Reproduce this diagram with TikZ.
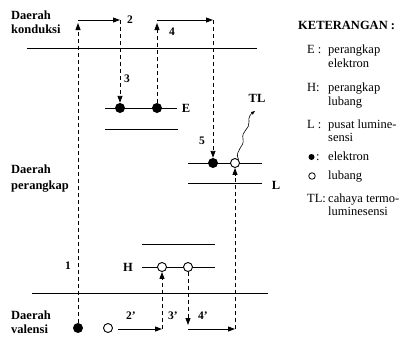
\documentclass[tikz,border=0pt]{standalone}
\usepackage{fontspec}
\setmainfont{Liberation Serif}
\usetikzlibrary{arrows.meta}
\begin{document}
\begin{tikzpicture}[x=1pt,y=-1pt,
  band/.style={line width=0.9pt},
  elec/.style={circle,fill=black,inner sep=0pt,minimum size=10pt},
  hole/.style={circle,draw=black,fill=white,line width=0.9pt,inner sep=0pt,minimum size=9pt},
  tr/.style={line width=0.9pt,dash pattern=on 4pt off 3pt,-{Triangle[length=7pt,width=5pt]}},
  hop/.style={line width=0.9pt,-{Triangle[length=7pt,width=5pt]}},
  reg/.style={font=\fontsize{12.5}{14}\selectfont\bfseries,align=left,anchor=base west,inner sep=0pt},
  lab/.style={font=\fontsize{11.5}{12}\selectfont\bfseries,inner sep=0pt},
  leg/.style={font=\fontsize{12.5}{13}\selectfont,anchor=base west,inner sep=0pt},
  legb/.style={font=\fontsize{12.5}{13}\selectfont\bfseries,anchor=base west,inner sep=0pt},
]
\useasboundingbox (0,0) rectangle (406,338);

% bands
\coordinate (cbL) at (27,48); \coordinate (cbR) at (257,48);
\draw[band] (cbL) -- (cbR);
\coordinate (vbL) at (32,293); \coordinate (vbR) at (268,293);
\draw[band] (vbL) -- (vbR);

% trap levels
\coordinate (eaL) at (105,108); \coordinate (eaR) at (177,108);
\coordinate (ebL) at (105,129); \coordinate (ebR) at (178,129);
\draw[band] (eaL) -- (eaR); \draw[band] (ebL) -- (ebR);
\coordinate (laL) at (188,163); \coordinate (laR) at (262,163);
\coordinate (lbL) at (188,183); \coordinate (lbR) at (262,183);
\draw[band] (laL) -- (laR); \draw[band] (lbL) -- (lbR);
\coordinate (haL) at (142,244); \coordinate (haR) at (215,244);
\coordinate (hbL) at (142,267); \coordinate (hbR) at (215,267);
\draw[band] (haL) -- (haR); \draw[band] (hbL) -- (hbR);

% carriers
\node[elec] (ve) at (78,328) {};
\node[hole] (vh) at (108,328) {};
\node[elec] (e1) at (120,108) {};
\node[elec] (e2) at (157,108) {};
\node[elec] (le) at (213,163) {};
\node[hole] (lh) at (235,163) {};
\node[hole] (h1) at (162,267) {};
\node[hole] (h2) at (188,267) {};

% electron path
\coordinate (t1) at (78,23);
\draw[tr] (ve) -- (t1);
\coordinate (a1) at (78,20); \coordinate (a2) at (120,20);
\draw[hop] (a1) -- (a2);
\draw[tr] (a2) -- (e1);
\coordinate (t4) at (157,23);
\draw[tr] (e2) -- (t4);
\coordinate (b1) at (157,20); \coordinate (b2) at (213,20);
\draw[hop] (b1) -- (b2);
\draw[tr] (b2) -- (le);

% hole path
\coordinate (c1) at (118,329); \coordinate (c2) at (162,329);
\draw[hop] (c1) -- (c2);
\draw[tr] (c2) -- (h1);
\coordinate (d1) at (188,325);
\draw[tr] (h2) -- (d1);
\coordinate (d2) at (188,329); \coordinate (d3) at (235,329);
\draw[hop] (d2) -- (d3);
\draw[tr] (d3) -- (lh);

% TL emission
\node[lab,font=\fontsize{12.5}{13}\selectfont\bfseries] (tl) at (257,98) {TL};
\coordinate (tlend) at (255,111);
\draw[line width=0.6pt,-{Triangle[length=4pt,width=3pt]}] (lh.north east)
  .. controls (234,150) and (245,147) .. (243,139)
  .. controls (241,131) and (250,129) .. (249,122)
  .. controls (248,117) and (251,114) .. (tlend);

% labels in diagram
\node[lab] (n1) at (68,266) {1};
\node[lab] (n2) at (130,20) {2};
\node[lab] (n3) at (127,79) {3};
\node[lab] (n4) at (172,32) {4};
\node[lab] (n5) at (202,141) {5};
\node[lab] (n2p) at (131,316) {2’};
\node[lab] (n3p) at (173,316) {3’};
\node[lab] (n4p) at (203,316) {4’};
\node[lab,font=\fontsize{12.5}{13}\selectfont\bfseries] (lE) at (186,108) {E};
\node[lab,font=\fontsize{12.5}{13}\selectfont\bfseries] (lH) at (128,267) {H};
\node[lab,font=\fontsize{12.5}{13}\selectfont\bfseries] (lL) at (276,185) {L};

% region labels (base = last line)
\node[reg] (rk) at (11,33) {Daerah\\konduksi};
\node[reg,font=\fontsize{12.5}{16}\selectfont\bfseries] (rp) at (11,189) {Daerah\\perangkap};
\node[reg] (rv) at (11,333) {Daerah\\valensi};

% legend
\node[legb] (kt) at (298,29) {KETERANGAN :};
\node[leg] (kE) at (307,53) {E :};
\node[leg] (kEt) at (328,53) {perangkap};
\node[leg] (kEt2) at (328,67) {elektron};
\node[leg] (kH) at (307,91) {H:};
\node[leg] (kHt) at (328,91) {perangkap};
\node[leg] (kHt2) at (328,105) {lubang};
\node[leg] (kL) at (307,128) {L :};
\node[leg] (kLt) at (328,128) {pusat lumine-};
\node[leg] (kLt2) at (328,141) {sensi};
\node[circle,fill=black,inner sep=0pt,minimum size=6pt] (kel) at (311.5,157) {};
\node[leg] (kelc) at (316,160) {:};
\node[leg] (kelt) at (328,160) {elektron};
\node[circle,draw=black,line width=0.8pt,inner sep=0pt,minimum size=6.5pt] (kho) at (312,176) {};
\node[leg] (khot) at (328,179) {lubang};
\node[leg] (kTL) at (307,202) {TL:};
\node[leg] (kTLt) at (328,202) {cahaya termo-};
\node[leg] (kTLt2) at (328,215) {luminesensi};
\end{tikzpicture}
\end{document}
